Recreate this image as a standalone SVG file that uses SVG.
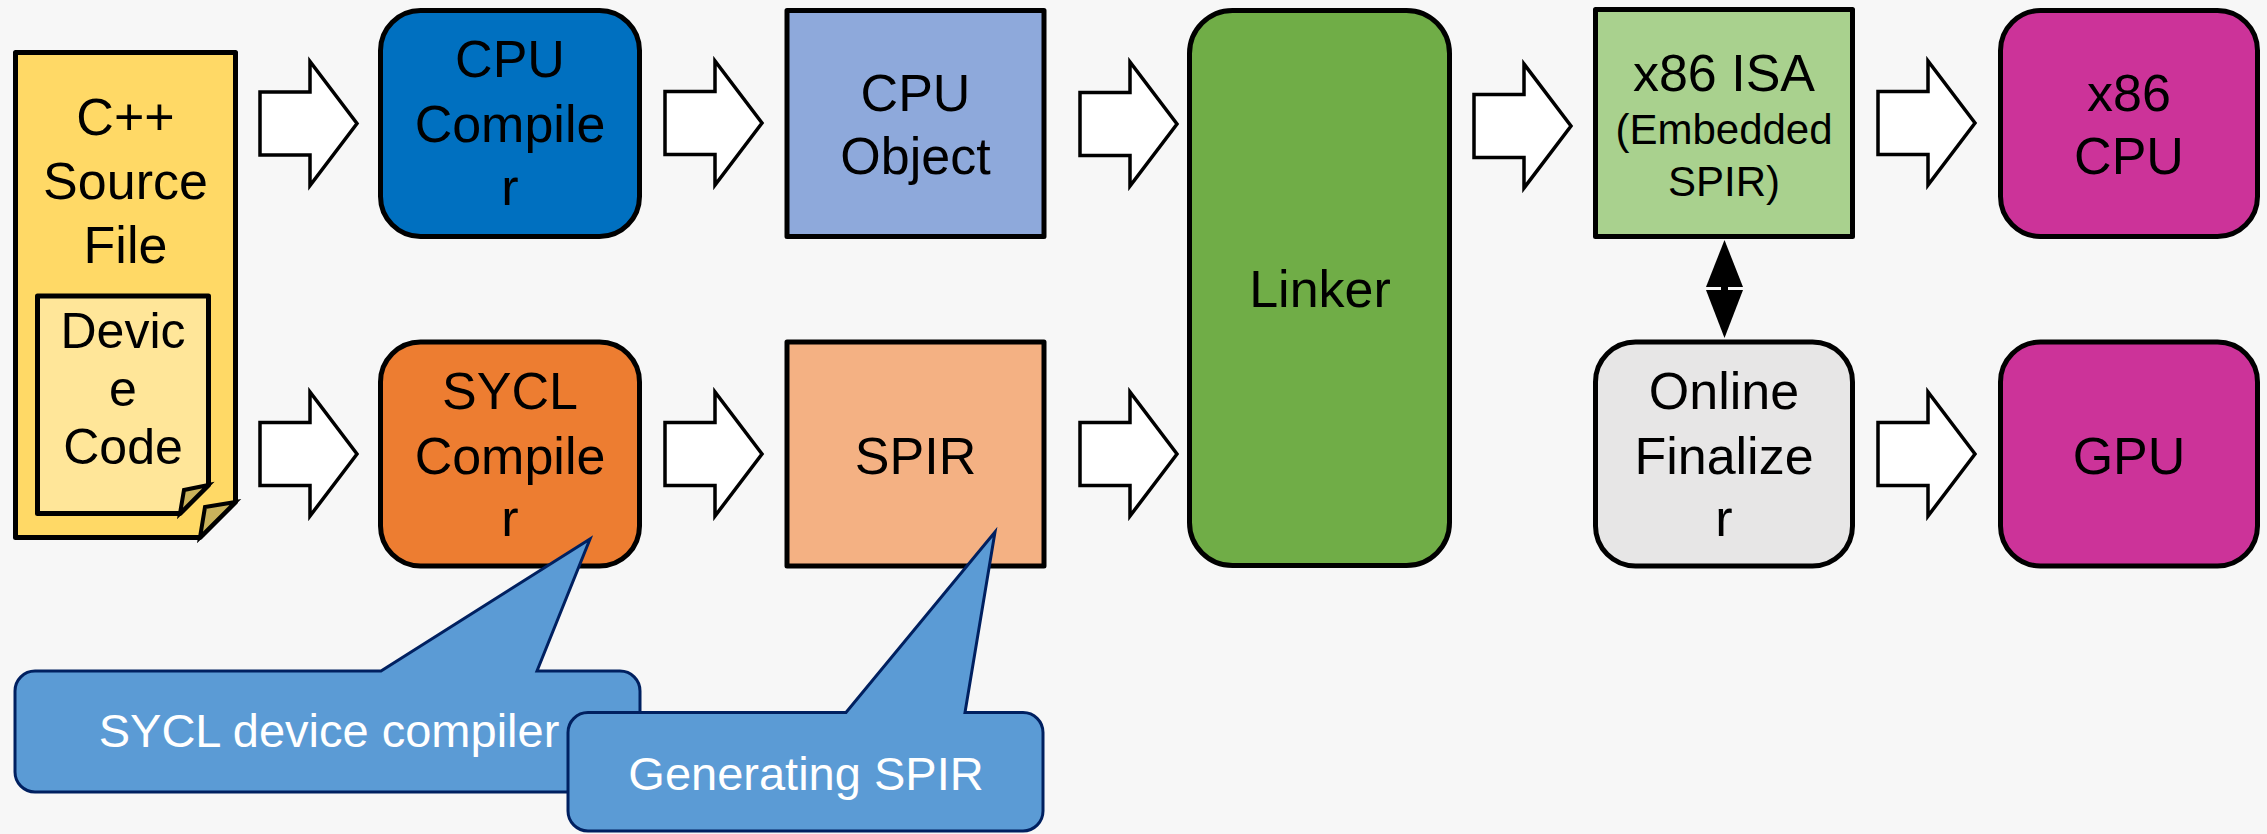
<svg xmlns="http://www.w3.org/2000/svg" width="2267" height="834" viewBox="0 0 2267 834">
<style>
.box{stroke:#000;stroke-width:5;stroke-linejoin:round}
.arr{fill:#fff;stroke:#000;stroke-width:3.5;stroke-linejoin:miter}
.t{font-family:"Liberation Sans",Arial,sans-serif;font-size:52px;fill:#000;text-anchor:middle}
.ts{font-size:42px}
.ti{font-size:50px}
.call{fill:#5B9BD5;stroke:#002060;stroke-width:3;stroke-linejoin:miter}
.ct{font-family:"Liberation Sans",Arial,sans-serif;font-size:47px;fill:#fff;text-anchor:middle}
.flap{fill:#C9B25B;stroke:#000;stroke-width:4;stroke-linejoin:miter}
</style>
<defs>
<path id="blk" d="M0,-31.5 H50 V-62 L97,0 L50,62 V31.5 H0 Z"/>
</defs>
<rect width="2267" height="834" fill="#F7F7F7"/>

<g id="source-file">
<path class="box" d="M15.5,52.5 H235.5 V502 L200,537.5 H15.5 Z" fill="#FFD966"/>
<path class="flap" d="M235.5,502 L205,507 L200,537.5 Z"/>
<text class="t"><tspan x="125.5" y="135">C++</tspan><tspan x="125.5" y="199">Source</tspan><tspan x="125.5" y="263">File</tspan></text>
<g id="device-code">
<path class="box" d="M37.5,296 H208.5 V485 L180,513.5 H37.5 Z" fill="#FFE699"/>
<path class="flap" d="M208.5,485 L184,490 L180,513.5 Z"/>
<text class="t ti"><tspan x="123" y="348">Devic</tspan><tspan x="123" y="406">e</tspan><tspan x="123" y="464">Code</tspan></text>
</g>
</g>

<g id="cpu-compiler">
<rect class="box" x="380.5" y="10.5" width="259" height="226" rx="40" fill="#0070C0"/>
<text class="t"><tspan x="510" y="77">CPU</tspan><tspan x="510" y="142">Compile</tspan><tspan x="510" y="205">r</tspan></text>
</g>
<g id="cpu-object">
<rect class="box" x="787" y="10.5" width="257" height="226" fill="#8EA9DB"/>
<text class="t"><tspan x="915.5" y="111">CPU</tspan><tspan x="915.5" y="174">Object</tspan></text>
</g>
<g id="sycl-compiler">
<rect class="box" x="380.5" y="342" width="259" height="224" rx="40" fill="#ED7D31"/>
<text class="t"><tspan x="510" y="409">SYCL</tspan><tspan x="510" y="474">Compile</tspan><tspan x="510" y="536">r</tspan></text>
</g>
<g id="spir">
<rect class="box" x="787" y="342" width="257" height="224" fill="#F4B183"/>
<text class="t" x="915.5" y="474">SPIR</text>
</g>
<g id="linker">
<rect class="box" x="1189.5" y="10.5" width="260" height="555" rx="43" fill="#70AD47"/>
<text class="t" x="1320" y="307">Linker</text>
</g>
<g id="x86-isa">
<rect class="box" x="1595.5" y="9.5" width="257" height="227" fill="#A9D18E"/>
<text class="t" x="1724" y="91">x86 ISA</text>
<text class="t ts"><tspan x="1724" y="144">(Embedded</tspan><tspan x="1724" y="196">SPIR)</tspan></text>
</g>
<g id="online-finalizer">
<rect class="box" x="1595.5" y="342" width="257" height="224" rx="40" fill="#E7E6E6"/>
<text class="t"><tspan x="1724" y="409">Online</tspan><tspan x="1724" y="474">Finalize</tspan><tspan x="1724" y="536">r</tspan></text>
</g>
<g id="x86-cpu">
<rect class="box" x="2000.5" y="10.5" width="257" height="226" rx="40" fill="#CC3399"/>
<text class="t"><tspan x="2129" y="111">x86</tspan><tspan x="2129" y="174">CPU</tspan></text>
</g>
<g id="gpu">
<rect class="box" x="2000.5" y="342" width="257" height="224" rx="40" fill="#CC3399"/>
<text class="t" x="2129" y="474">GPU</text>
</g>

<g id="connectors">
<use href="#blk" class="arr" transform="translate(260,123.5)"/>
<use href="#blk" class="arr" transform="translate(260,454)"/>
<use href="#blk" class="arr" transform="translate(665,123)"/>
<use href="#blk" class="arr" transform="translate(665,454)"/>
<use href="#blk" class="arr" transform="translate(1080,124)"/>
<use href="#blk" class="arr" transform="translate(1080,454)"/>
<use href="#blk" class="arr" transform="translate(1474,126)"/>
<use href="#blk" class="arr" transform="translate(1878,123)"/>
<use href="#blk" class="arr" transform="translate(1878,454)"/>
<g id="isa-finalizer">
<rect x="1721" y="280" width="7" height="14" fill="#000"/>
<path d="M1724.5,240 L1743,287 H1706 Z" fill="#000"/>
<path d="M1724.5,338 L1743,290 H1706 Z" fill="#000"/>
</g>
</g>

<g id="callout-sycl">
<path class="call" d="M35,671 H381 L590,539 L537,671 H620 A20,20 0 0 1 640,691 V772 A20,20 0 0 1 620,792 H35 A20,20 0 0 1 15,772 V691 A20,20 0 0 1 35,671 Z"/>
<text class="ct" x="329" y="747">SYCL device compiler</text>
</g>
<g id="callout-spir">
<path class="call" d="M588,712.5 H846 L995,532 L965,712.5 H1023 A20,20 0 0 1 1043,732.5 V811 A20,20 0 0 1 1023,831 H588 A20,20 0 0 1 568,811 V732.5 A20,20 0 0 1 588,712.5 Z"/>
<text class="ct" x="806" y="790">Generating SPIR</text>
</g>
</svg>
